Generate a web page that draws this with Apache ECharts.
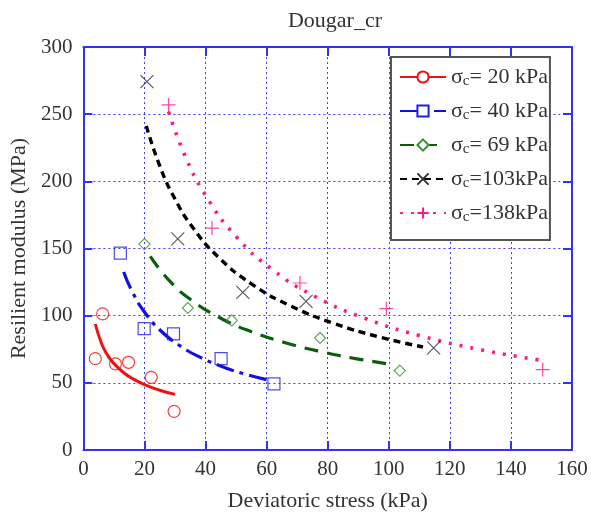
<!DOCTYPE html>
<html><head><meta charset="utf-8">
<script src="https://cdn.jsdelivr.net/npm/echarts@6/dist/echarts.min.js"></script>
<style>html,body{margin:0;padding:0;background:#fff}#c{width:591px;height:518px}</style>
</head><body><div id="c"></div>
<script>
// measured points
var names = ['20 kPa', '40 kPa', '69 kPa', '103 kPa', '138 kPa'];
var legendLabels = ['= 20 kPa', '= 40 kPa', '= 69 kPa', '=103kPa', '=138kPa'];
var pts20 = [[3.9,68.0],[6.3,101.3],[10.5,64.1],[14.8,65.3],[22.2,54.1],[29.7,28.8]];
var pts40 = [[12.1,146.6],[19.9,90.3],[29.5,86.4],[45.1,68.0],[62.4,49.2]];
var pts69 = [[20.0,153.3],[34.2,105.7],[48.6,96.5],[77.5,83.4],[103.6,59.1]];
var pts103 = [[20.8,274.2],[30.9,157.2],[52.2,117.3],[72.9,110.6],[114.7,76.0]];
var pts138 = [[27.9,256.9],[42.1,165.2],[70.9,124.3],[99.2,105.2],[150.4,59.9]];
// fitted curves
var fit20 = [[3.9,93.8],[6,78.9],[8,70.3],[10,64.3],[13,57.9],[16,53.3],[20,48.7],[25,44.5],[30,41.4]];
var fit40 = [[13.2,132.5],[16,117.8],[20,102.7],[25,89.5],[31,78.5],[38,69.3],[46,61.6],[53,56.5],[60,52.4]];
var fit69 = [[21.9,144.1],[28,126.4],[35,112.2],[45,98.1],[55,88.1],[67,79.3],[79,72.6],[90,67.7],[101.4,63.6]];
var fit103 = [[20.6,241.3],[25,211.5],[30,186.8],[36,165.1],[44,144.0],[55,123.7],[68,107.1],[82,94.3],[97,84.1],[111.2,76.7]];
var fit138 = [[27.9,251.9],[33,220.6],[40,189.6],[50,158.9],[62,134.1],[76,114.1],[92,98.2],[110,85.2],[130,74.7],[149.9,66.8]];
var xTicks = [0,20,40,60,80,100,120,140,160];
var yTicks = [0,50,100,150,200,250,300];

var pts = [pts20, pts40, pts69, pts103, pts138];
var fits = [fit20, fit40, fit69, fit103, fit138];
var lineColors = ['#ee1111', '#1010e0', '#0b5e0b', '#000000', '#ff1a8a'];
var markColors = ['#ee1111', '#2020e0', '#3c8f3c', '#333333', '#ff1a8a'];
var symbols = ['circle', 'rect', 'diamond', 'path://M0,0L10,10M0,10L10,0', 'path://M5,0L5,10M0,5L10,5'];
var symSizes = [12, 12, 11, 13, 14];
var dashes = ['solid', [18,6,4,6], [14,9], [7,5], [3,8]];
var widths = [3, 3.2, 3.2, 3.4, 3.6];
var serif = '"Liberation Serif", "DejaVu Serif", serif';
var gridBlue = '#3c3cff';
var axisBlue = '#3434f0';

var series = [];
for (var i = 0; i < 5; i++) {
  series.push({
    name: names[i], type: 'line', data: fits[i], smooth: true,
    showSymbol: false, symbol: symbols[i], symbolSize: symSizes[i],
    lineStyle: {color: lineColors[i], width: widths[i], type: dashes[i], cap: 'butt'},
    itemStyle: {color: '#fff', borderColor: markColors[i], borderWidth: 1.2},
    z: 3
  });
  series.push({
    name: names[i], type: 'scatter', data: pts[i], symbol: symbols[i], symbolSize: symSizes[i],
    itemStyle: {color: 'rgba(255,255,255,0)', borderColor: markColors[i], borderWidth: 1.2},
    z: 4
  });
}

var xAxisCommon = {
  type: 'value', min: 0, max: 160, interval: 20,
  axisLine: {show: true, onZero: false, lineStyle: {color: axisBlue, width: 2}},
  axisTick: {show: true, inside: true, length: 9, lineStyle: {color: axisBlue, width: 2}},
  splitLine: {show: false}
};
var yAxisCommon = {
  type: 'value', min: 0, max: 300, interval: 50,
  axisLine: {show: true, onZero: false, lineStyle: {color: axisBlue, width: 2}},
  axisTick: {show: true, inside: true, length: 9, lineStyle: {color: axisBlue, width: 2}},
  splitLine: {show: false}
};

var chart = echarts.init(document.getElementById('c'));
chart.setOption({
  animation: false,
  backgroundColor: '#fff',
  title: {text: 'Dougar_cr', left: 330, top: 5, textAlign: 'center',
    textStyle: {fontFamily: serif, fontWeight: 'normal', fontSize: 22, color: '#333'}},
  grid: {left: 83, right: 19, top: 47, bottom: 68},
  legend: {
    orient: 'vertical', left: 391, top: 57,
    data: names,
    itemWidth: 46, itemHeight: 14, itemGap: 11,
    padding: [9, 2, 15, 8],
    backgroundColor: '#fff', borderColor: '#555', borderWidth: 2,
    formatter: function (n) { var k = names.indexOf(n); return '{a|σ}{b|c}{a|' + legendLabels[k] + '}'; },
    textStyle: {fontFamily: serif, color: '#333',
      rich: {a: {fontFamily: serif, fontSize: 22, lineHeight: 24, color: '#333'},
             b: {fontFamily: serif, fontSize: 15, lineHeight: 13, verticalAlign: 'bottom', color: '#333'}}}
  },
  xAxis: [
    Object.assign({}, xAxisCommon, {
      position: 'bottom',
      name: 'Deviatoric stress (kPa)', nameLocation: 'middle', nameGap: 40,
      nameTextStyle: {fontFamily: serif, fontSize: 22, color: '#333'},
      axisLabel: {fontFamily: serif, fontSize: 21, color: '#333', margin: 9,
        formatter: function (v) { return xTicks.indexOf(v) >= 0 ? String(v) : ''; }},
      splitLine: {show: true, lineStyle: {color: gridBlue, width: 1, type: [2, 3]}}
    }),
    Object.assign({}, xAxisCommon, {position: 'top', axisLabel: {show: false}})
  ],
  yAxis: [
    Object.assign({}, yAxisCommon, {
      position: 'left',
      name: 'Resilient modulus (MPa)', nameLocation: 'middle', nameGap: 42,
      nameTextStyle: {fontFamily: serif, fontSize: 22, color: '#333'},
      axisLabel: {fontFamily: serif, fontSize: 21, color: '#333', margin: 11,
        formatter: function (v) { return yTicks.indexOf(v) >= 0 ? String(v) : ''; }},
      splitLine: {show: true, lineStyle: {color: gridBlue, width: 1, type: [2, 3]}}
    }),
    Object.assign({}, yAxisCommon, {position: 'right', axisLabel: {show: false}})
  ],
  series: series
});
</script>
</body></html>
